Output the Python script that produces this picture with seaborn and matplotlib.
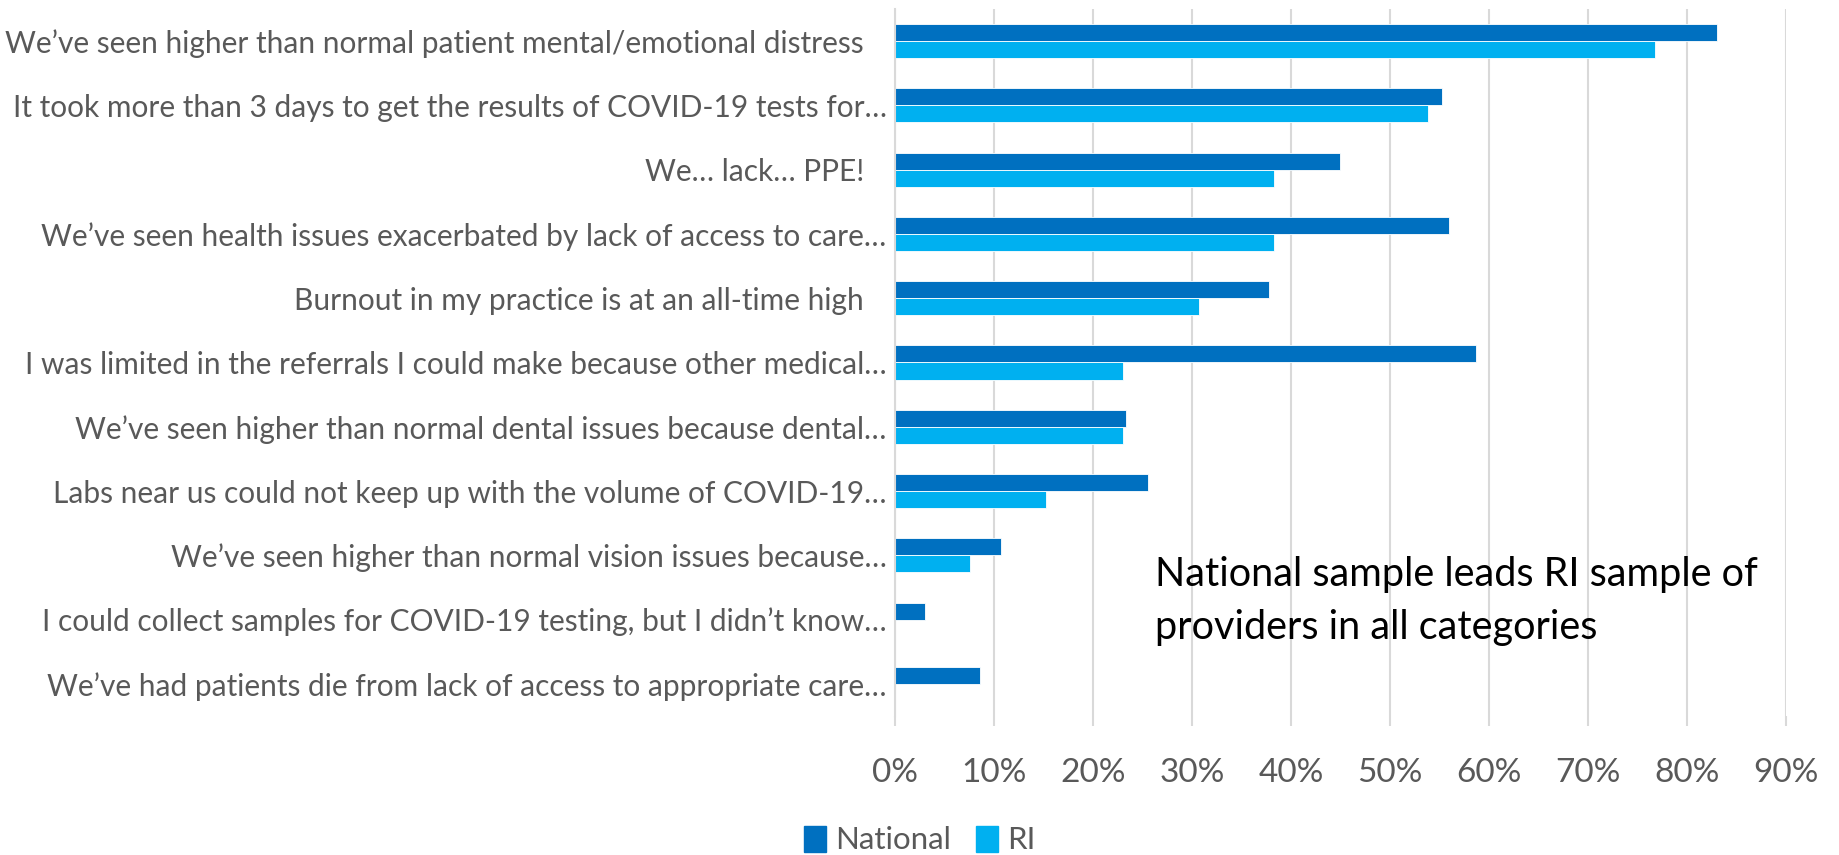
import matplotlib
matplotlib.use("Agg")
import matplotlib.pyplot as plt
import matplotlib.ticker as mticker
import pandas as pd
import seaborn as sns

statements = [
    "We\u2019ve seen higher than normal patient mental/emotional distress   ",
    "It took more than 3 days to get the results of COVID-19 tests for\u2026",
    "We\u2026 lack\u2026 PPE!   ",
    "We\u2019ve seen health issues exacerbated by lack of access to care\u2026",
    "Burnout in my practice is at an all-time high   ",
    "I was limited in the referrals I could make because other medical\u2026",
    "We\u2019ve seen higher than normal dental issues because dental\u2026",
    "Labs near us could not keep up with the volume of COVID-19\u2026",
    "We\u2019ve seen higher than normal vision issues because\u2026",
    "I could collect samples for COVID-19 testing, but I didn\u2019t know\u2026",
    "We\u2019ve had patients die from lack of access to appropriate care\u2026",
]
national = [83.0, 55.3, 44.9, 56.0, 37.8, 58.7, 23.3, 25.6, 10.7, 3.0, 8.6]
ri = [76.8, 53.8, 38.3, 38.3, 30.7, 23.0, 23.0, 15.3, 7.6, 0.0, 0.0]
series = ["National", "RI"]
colors = ["#0070C0", "#00B0F0"]
x_ticks = list(range(0, 100, 10))

df = pd.DataFrame({
    "statement": statements * 2,
    "value": national + ri,
    "sample": [series[0]] * len(statements) + [series[1]] * len(statements),
})

sns.set_style("white")
plt.rcParams["font.family"] = ["Lato", "DejaVu Sans"]

W, H = 1839, 855
fig = plt.figure(figsize=(W / 100, H / 100), dpi=100)
ax = fig.add_axes([895 / W, 1 - 716 / H, (1786 - 895) / W, (716 - 9) / H])

sns.barplot(data=df, y="statement", x="value", hue="sample", orient="h",
            palette=colors, saturation=1, width=0.53, ax=ax, legend=False,
            edgecolor="white", linewidth=0.6)

ax.set_xlim(0, 90)
ax.set_ylim(len(statements) - 0.5, -0.5)
ax.set_xticks(x_ticks)
ax.xaxis.set_major_formatter(mticker.FuncFormatter(lambda v, p: f"{v:.0f}%"))
ax.grid(axis="x", color="#D9D9D9", linewidth=1.5)
ax.set_axisbelow(True)
for s in ["top", "right", "bottom"]:
    ax.spines[s].set_visible(False)
ax.spines["left"].set_color("#D9D9D9")
ax.spines["left"].set_linewidth(1.5)

ax.tick_params(axis="x", colors="#595959", labelsize=24, length=7, width=1.5,
               direction="out", pad=23, color="#D9D9D9", bottom=True)
ax.tick_params(axis="y", colors="#595959", labelsize=21.5, length=0, pad=6)
ax.set_xlabel("")
ax.set_ylabel("")

# note box in the empty lower right
fig.text(1155 / W, 1 - 601 / H, "National sample leads RI sample of\nproviders in all categories",
         fontsize=28.5, color="black", ha="left", va="center", linespacing=1.55)

handles = [plt.Rectangle((0, 0), 1, 1, color=c) for c in colors]
fig.legend(handles, series, loc="center", bbox_to_anchor=(920 / W, 1 - 840 / H),
           ncol=2, frameon=False, fontsize=22.5, labelcolor="#595959",
           handlelength=0.7, handleheight=0.9, handletextpad=0.3, columnspacing=0.8)

fig.savefig("out.png", dpi=100)
